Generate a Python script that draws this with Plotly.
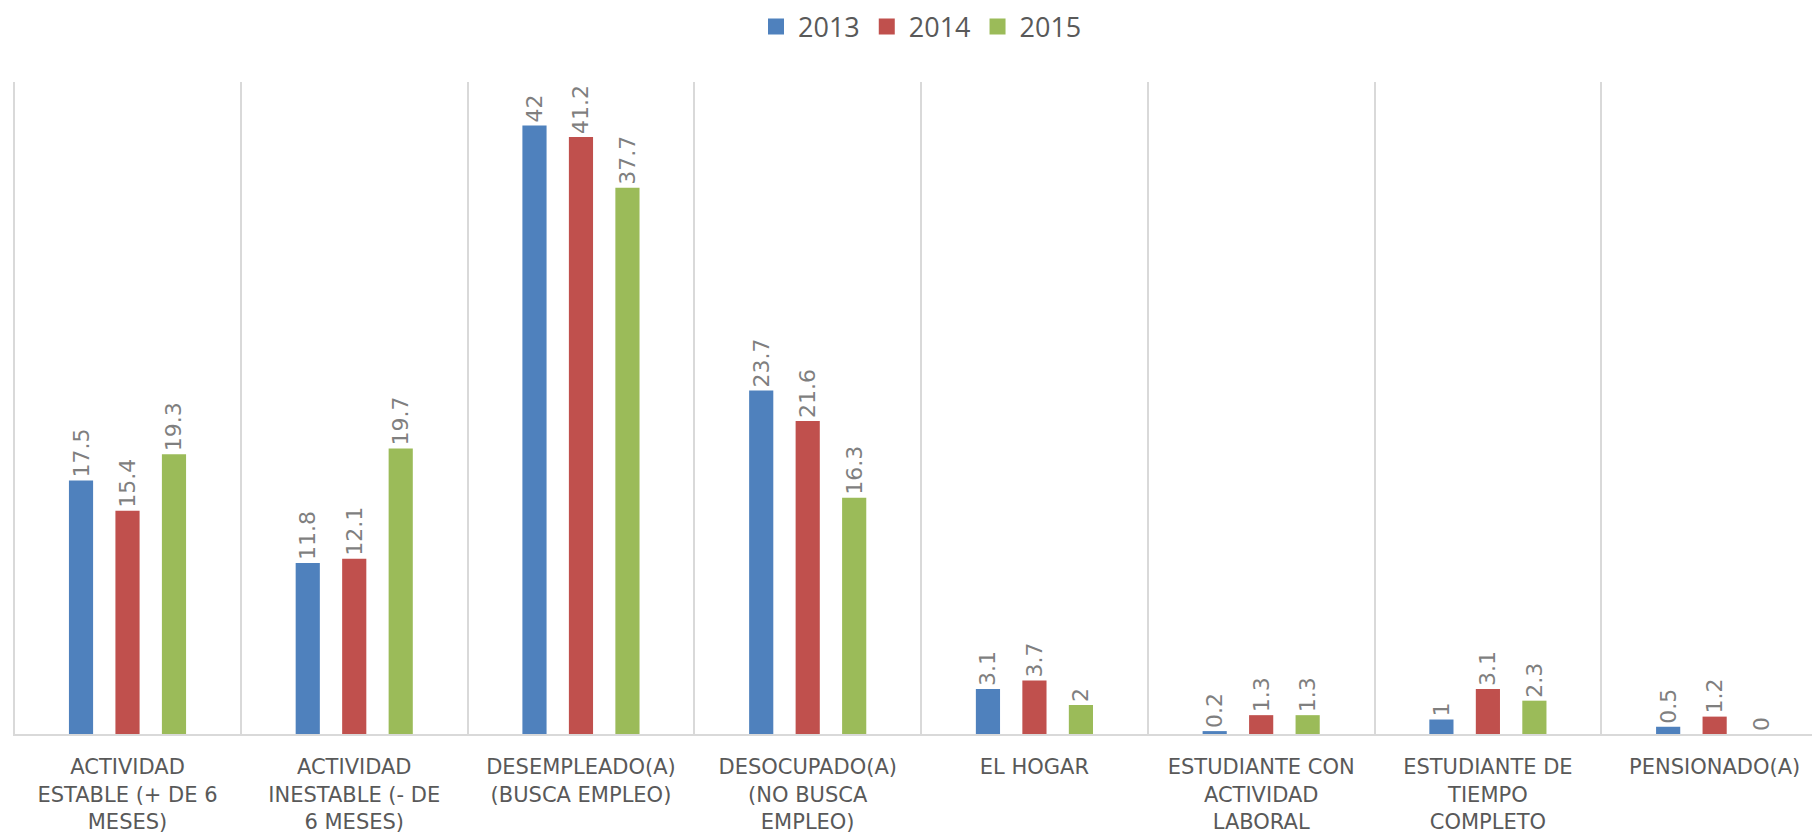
import plotly.graph_objects as go

categories = [
    "ACTIVIDAD<br>ESTABLE (+ DE 6<br>MESES)",
    "ACTIVIDAD<br>INESTABLE (- DE<br>6 MESES)",
    "DESEMPLEADO(A)<br>(BUSCA EMPLEO)",
    "DESOCUPADO(A)<br>(NO BUSCA<br>EMPLEO)",
    "EL HOGAR",
    "ESTUDIANTE CON<br>ACTIVIDAD<br>LABORAL",
    "ESTUDIANTE DE<br>TIEMPO<br>COMPLETO",
    "PENSIONADO(A)",
]
years = ["2013", "2014", "2015"]
values_2013 = [17.5, 11.8, 42, 23.7, 3.1, 0.2, 1, 0.5]
values_2014 = [15.4, 12.1, 41.2, 21.6, 3.7, 1.3, 3.1, 1.2]
values_2015 = [19.3, 19.7, 37.7, 16.3, 2, 1.3, 2.3, 0]
colors = ["#4F81BD", "#C0504D", "#9BBB59"]

fig = go.Figure()
for name, vals, col in zip(years, [values_2013, values_2014, values_2015], colors):
    fig.add_trace(go.Bar(
        x=categories, y=vals, name=name, marker_color=col,
        marker_line_width=0,
        text=[f"{v:g}" for v in vals], textposition="outside", textangle=-90,
        constraintext="none", cliponaxis=False,
        textfont=dict(family="DejaVu Sans, sans-serif", size=22, color="#7F7F7F"),
        showlegend=False,
    ))
    fig.add_trace(go.Scatter(
        x=[None], y=[None], mode="markers", name=name,
        marker=dict(symbol="square", size=16, color=col),
    ))

fig.update_layout(
    width=1820, height=835,
    paper_bgcolor="white", plot_bgcolor="white",
    margin=dict(l=5, r=0, t=74, b=109, autoexpand=False),
    barmode="group", bargap=0.385, bargroupgap=0.48,
    legend=dict(orientation="h", x=0.5, xanchor="center", y=1.0844, yanchor="middle",
                font=dict(family="Open Sans, sans-serif", size=27, color="#595959"),
                itemwidth=34, tracegroupgap=0),
    xaxis=dict(type="category", tickson="boundaries", showgrid=True, gridcolor="#D9D9D9", gridwidth=1.5,
               showline=True, linecolor="#D9D9D9", linewidth=2, ticks="",
               range=[-0.505, 7.5],
               tickfont=dict(family="DejaVu Sans, sans-serif", size=21, color="#595959"),
               ticklabelstandoff=13),
    yaxis=dict(range=[0, 45], showgrid=False, showticklabels=False, zeroline=False, ticks=""),
)
fig.write_html("out.html")
